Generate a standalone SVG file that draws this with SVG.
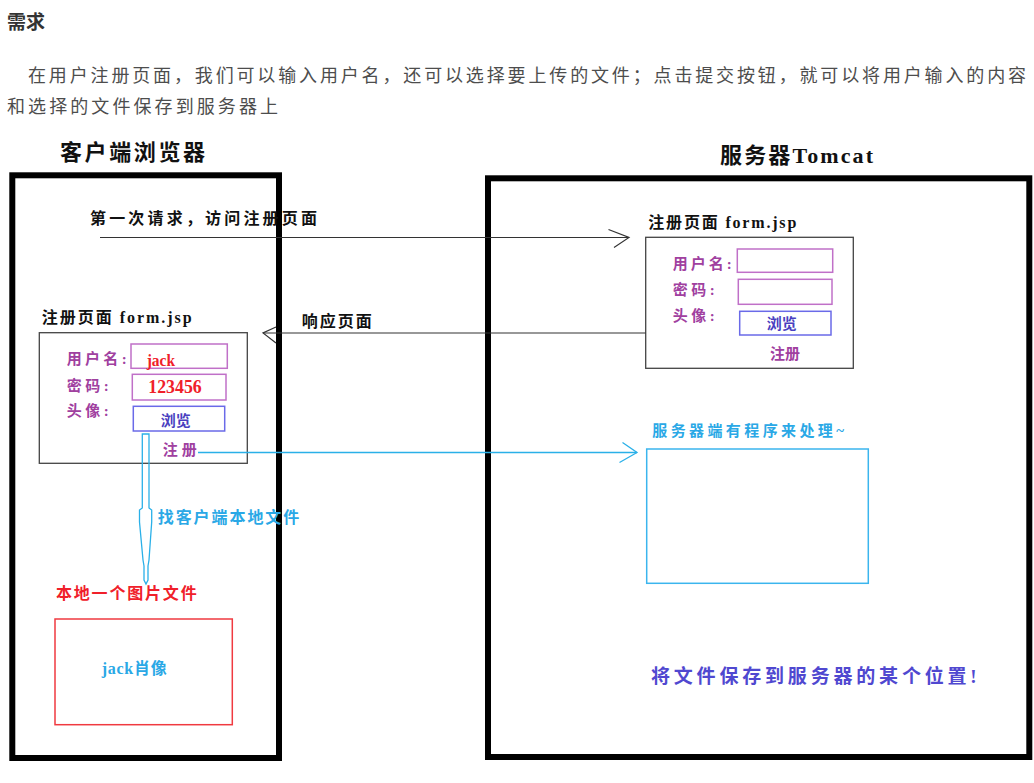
<svg xmlns="http://www.w3.org/2000/svg" width="1034" height="783" viewBox="0 0 1034 783">
<style>
text{font-family:"Liberation Serif","Noto Sans CJK SC",serif;}
.hd{font-family:"Noto Sans CJK SC","Microsoft YaHei",sans-serif;font-size:19px;font-weight:700;fill:#333;}
.p{font-family:"Noto Sans CJK SC",sans-serif;font-size:18px;fill:#4d4d4d;}
.big{font-size:22px;font-weight:700;fill:#111;}
.lbl{font-size:16px;font-weight:700;fill:#111;}
.pur{font-size:15px;font-weight:700;fill:#a0409f;}
.btn{font-size:15px;font-weight:700;fill:#4a3fc0;}
.red{font-weight:700;fill:#f0202a;}
.sky{font-weight:700;fill:#2aa8e6;}
.vio{font-size:19px;font-weight:700;fill:#5048d0;}
.frame{fill:none;stroke:#000;stroke-width:6;}
.form{fill:none;stroke:#444;stroke-width:1.3;}
.inp{fill:none;stroke:#c070c8;stroke-width:1.5;}
.bb{fill:none;stroke:#6a6ae8;stroke-width:1.5;}
.blk{fill:none;stroke:#333;stroke-width:1.2;}
.blue{fill:none;stroke:#2ab0e8;stroke-width:1.3;}
</style>
<rect width="1034" height="783" fill="#fff"/>
<g id="intro">
<text class="hd" x="7" y="29">需求</text>
<text class="p" x="28" y="82" textLength="998" lengthAdjust="spacing">在用户注册页面，我们可以输入用户名，还可以选择要上传的文件；点击提交按钮，就可以将用户输入的内容</text>
<text class="p" x="7" y="113" textLength="271" lengthAdjust="spacing">和选择的文件保存到服务器上</text>
</g>
<g id="client-browser">
<text class="big" x="60" y="159.8" textLength="145" lengthAdjust="spacing">客户端浏览器</text>
<rect class="frame" x="12.3" y="175.3" width="266.7" height="582.7"/>
</g>
<g id="server-tomcat">
<text class="big" x="720" y="162.5" textLength="153" lengthAdjust="spacing">服务器Tomcat</text>
<rect class="frame" x="488" y="178.3" width="541.3" height="578.7"/>
<text class="vio" x="651" y="683" textLength="325.7" lengthAdjust="spacing">将文件保存到服务器的某个位置!</text>
</g>
<g id="server-form">
<text class="lbl" x="648.3" y="227.8" textLength="148" lengthAdjust="spacing">注册页面 form.jsp</text>
<rect class="form" x="645.7" y="237.3" width="207.6" height="131"/>
<text class="pur" x="672.7" y="269" textLength="59" lengthAdjust="spacing">用户名:</text>
<rect class="inp" x="737.3" y="249" width="95.4" height="23.3"/>
<text class="pur" x="672.7" y="294.7" textLength="42" lengthAdjust="spacing">密码:</text>
<rect class="inp" x="738.3" y="279.3" width="93.7" height="25"/>
<text class="pur" x="672.7" y="320.7" textLength="42" lengthAdjust="spacing">头像:</text>
<rect class="bb" x="739.7" y="311.3" width="91.3" height="23.7"/>
<text class="btn" x="781.7" y="329" text-anchor="middle">浏览</text>
<text class="pur" x="785" y="359" text-anchor="middle">注册</text>
</g>
<g id="client-form">
<text class="lbl" x="41.7" y="322.8" textLength="150" lengthAdjust="spacing">注册页面 form.jsp</text>
<rect class="form" x="39.3" y="332.7" width="208" height="130.6"/>
<text class="pur" x="66.7" y="364" textLength="60" lengthAdjust="spacing">用户名:</text>
<rect class="inp" x="131" y="344" width="96.3" height="24.3"/>
<text class="red" x="146.7" y="365.5" font-size="17" textLength="28.3" lengthAdjust="spacingAndGlyphs">jack</text>
<text class="pur" x="66.7" y="390.7" textLength="42" lengthAdjust="spacing">密码:</text>
<rect class="inp" x="132.3" y="374.3" width="93.7" height="25.7"/>
<text class="red" x="148.3" y="392.8" font-size="18" textLength="53.4" lengthAdjust="spacingAndGlyphs">123456</text>
<text class="pur" x="66.7" y="415.7" textLength="42" lengthAdjust="spacing">头像:</text>
<rect class="bb" x="133.3" y="406.3" width="91.4" height="24.7"/>
<text class="btn" x="175.7" y="425.7" text-anchor="middle">浏览</text>
<text class="pur" x="162.7" y="455" textLength="34" lengthAdjust="spacing">注册</text>
</g>
<g id="local-file">
<text class="red" x="56" y="598.8" font-size="16" textLength="140.7" lengthAdjust="spacing">本地一个图片文件</text>
<rect x="55" y="619" width="177.3" height="105.7" fill="none" stroke="#f03a40" stroke-width="1.5"/>
<text class="sky" x="101.7" y="674.2" font-size="16" textLength="65" lengthAdjust="spacing">jack肖像</text>
</g>
<g id="server-handler">
<text class="sky" x="652.3" y="436.3" font-size="15" textLength="191.7" lengthAdjust="spacing">服务器端有程序来处理~</text>
<rect x="646.7" y="449" width="221.6" height="134.3" fill="none" stroke="#3bb5ee" stroke-width="1.5"/>
</g>
<g id="connectors">
<line class="blk" x1="100" y1="237.5" x2="629" y2="237.5"/>
<polyline class="blk" points="608.5,229.5 629,237.5 614,247.5"/>
<text class="lbl" x="90" y="224" textLength="227" lengthAdjust="spacing">第一次请求，访问注册页面</text>
<line class="blk" x1="645.7" y1="333" x2="263" y2="333"/>
<polyline class="blk" points="276,327 263,333 276,343"/>
<text class="lbl" x="301.7" y="326.5" font-size="15" textLength="70" lengthAdjust="spacing">响应页面</text>
<line class="blue" x1="198" y1="452.5" x2="637" y2="452.5"/>
<polyline class="blue" points="622.5,442.5 637,452.5 619.5,462.5"/>
<polygon class="blue" points="142.3,434 149,434 149,508 151.7,510 151.7,522 149,560 148,566 148,580 146,584 144,580 144,566 143,560 139.5,522 139.5,510 142.3,508"/>
<text class="sky" x="157.7" y="522.8" font-size="16" textLength="141.6" lengthAdjust="spacing">找客户端本地文件</text>
</g>
</svg>
